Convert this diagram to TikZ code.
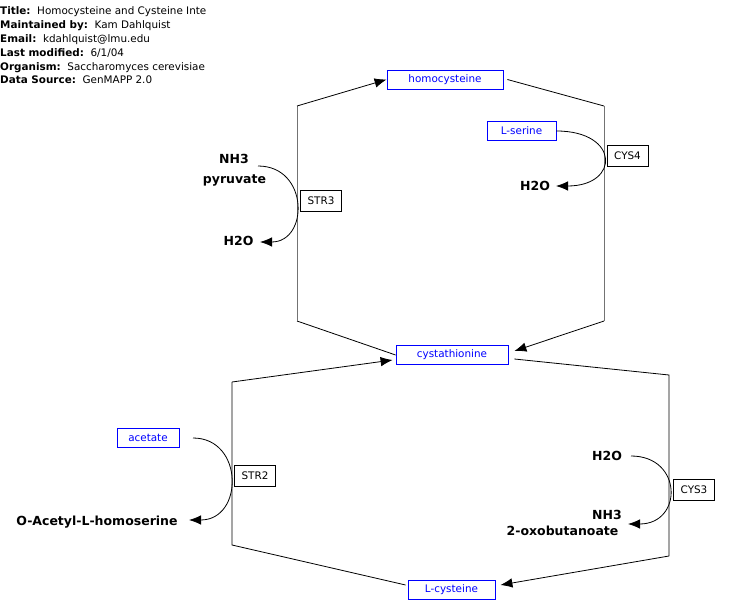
\documentclass[tikz,border=0pt]{standalone}
\usepackage{fontspec}
\setmainfont{DejaVu Sans}
\usepackage{tikz}
\usetikzlibrary{calc,arrows.meta}

\tikzset{
  head/.style  = {anchor=base west, inner sep=0pt, font=\fontsize{10.4}{12}\selectfont},
  metab/.style = {draw=blue, text=blue, line width=0.8pt, inner sep=0pt,
                  minimum height=19pt, font=\fontsize{10.4}{12}\selectfont},
  gene/.style  = {draw=black, line width=0.8pt, inner sep=0pt,
                  minimum height=21pt, minimum width=41pt, font=\fontsize{10.4}{12}\selectfont},
  side/.style  = {anchor=base, inner sep=0pt, font=\fontsize{12.5}{14}\selectfont\bfseries},
  rxn/.style   = {line width=0.8pt},
  tip/.style   = {-{Latex[length=12pt,width=9.5pt]}},
}

\begin{document}
\begin{tikzpicture}[x=1pt, y=-1pt]
\useasboundingbox (0,0) rectangle (729,615);
% header
\node[head] (title)  at (0,14.5) {\textbf{Title:}\ \ Homocysteine and Cysteine Inte};
\node[head] (maint)  at (0,28.5) {\textbf{Maintained by:}\ \ Kam Dahlquist};
\node[head] (email)  at (0,42.5) {\textbf{Email:}\ \ kdahlquist@lmu.edu};
\node[head] (modif)  at (0,56.5) {\textbf{Last modified:}\ \ 6/1/04};
\node[head] (organ)  at (0,70.5) {\textbf{Organism:}\ \ Saccharomyces cerevisiae};
\node[head] (source) at (0,84)   {\textbf{Data Source:}\ \ GenMAPP 2.0};

% metabolites
\node[metab, minimum width=116pt] (homo)  at (445,79.5)  {homocysteine};
\node[metab, minimum width=69pt]  (lser)  at (521.5,131) {L-serine};
\node[metab, minimum width=112pt] (cysta) at (452,355)   {cystathionine};
\node[metab, minimum width=62pt]  (acet)  at (148,437.5) {acetate};
\node[metab, minimum width=87pt]  (lcys)  at (451.5,590) {L-cysteine};

% genes
\node[gene] (str3) at (321,200.5) {STR3};
\node[gene] (cys4) at (627.5,155.5) {CYS4};
\node[gene] (str2) at (255,476) {STR2};
\node[gene] (cys3) at (694,490) {CYS3};

% side compounds
\node[side] (nh3a) at (234,163.5) {NH3};
\node[side] (pyr)  at (234.5,184) {pyruvate};
\node[side] (h2oa) at (238.5,246) {H2O};
\node[side] (h2ob) at (535,191)   {H2O};
\node[side] (oah)  at (97,525)    {O-Acetyl-L-homoserine};
\node[side] (h2oc) at (607,460.5) {H2O};
\node[side] (nh3b) at (607,519.5) {NH3};
\node[side] (oxo)  at (562.5,535) {2-oxobutanoate};

% bends of the main pathway
\coordinate (s3lo) at (297,321);
\coordinate (s3hi) at (297,106);
\coordinate (c4hi) at (604,106);
\coordinate (c4lo) at (604,321);
\coordinate (c3hi) at (669,375);
\coordinate (c3lo) at (669,556);
\coordinate (s2lo) at (232,545);
\coordinate (s2hi) at (232,382);

% STR3
\draw[rxn] (cysta.west) -- (s3lo);
\draw[rxn, black!55] (s3lo) -- (s3hi);
\draw[rxn, tip] (s3hi) -- (homo.west);
% CYS4
\draw[rxn] ($(homo.east)+(4,0)$) -- (c4hi);
\draw[rxn, black!55] (c4hi) -- (c4lo);
\draw[rxn, tip] (c4lo) -- ($(cysta.east)+(6,-4)$);
% CYS3
\draw[rxn] ($(cysta.east)+(6,4)$) -- (c3hi) -- (c3lo);
\draw[rxn, tip] (c3lo) -- ($(lcys.east)+(5,-5)$);
% STR2
\draw[rxn] ($(lcys.west)+(-2,-5)$) -- (s2lo) -- (s2hi);
\draw[rxn, tip] (s2hi) -- ($(cysta.west)+(-3,5)$);

% side reactions
\coordinate (s3in)  at (258,166);
\coordinate (s3out) at (260,242);
\coordinate (c4out) at (556,186);
\coordinate (s2in)  at (193,438);
\coordinate (s2out) at (189,520);
\coordinate (c3in)  at (631,456);
\coordinate (c3out) at (628,524);
\draw[rxn, tip] (s3in) .. controls (309,166) and (309,242) .. (s3out);
\draw[rxn, tip] (lser.east) .. controls (620,131) and (620,186) .. (c4out);
\draw[rxn, tip] (s2in) .. controls (244,438) and (244,520) .. (s2out);
\draw[rxn, tip] (c3in) .. controls (683,456) and (683,524) .. (c3out);
\end{tikzpicture}
\end{document}
